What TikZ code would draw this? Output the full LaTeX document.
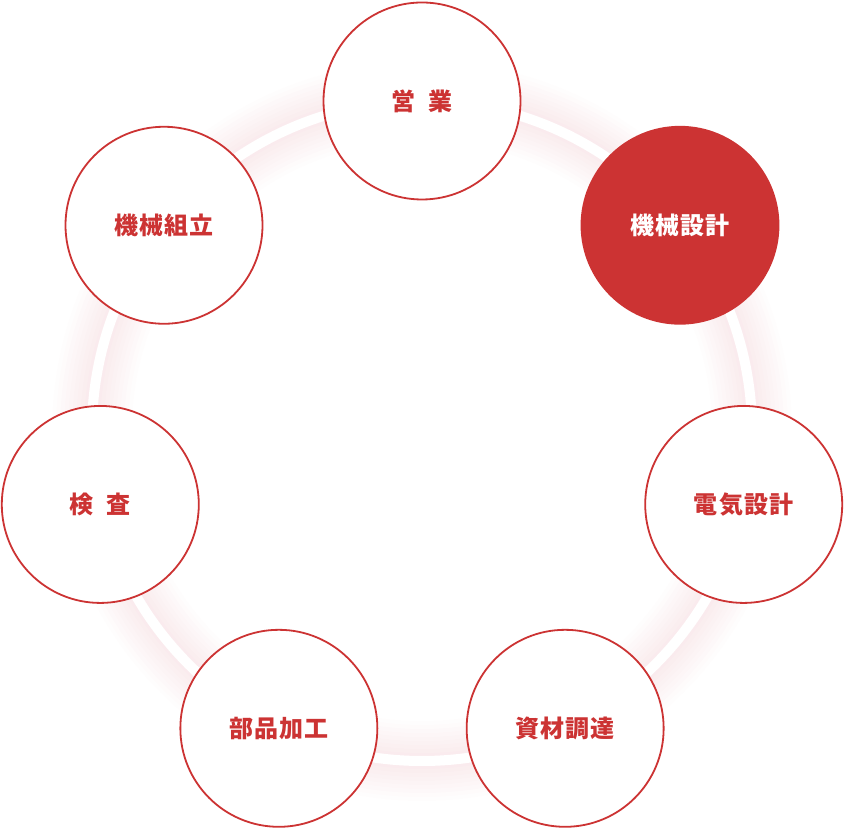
\documentclass[tikz,border=0pt]{standalone}
\usepackage{fontspec}
\usepackage{tikz}
\usetikzlibrary{positioning, calc}
\newfontfamily\cjk{Noto Sans CJK JP}[LetterSpace=5]
\definecolor{stagered}{RGB}{204,51,51}
\definecolor{glowred}{RGB}{205,70,90}

\begin{document}
\begin{tikzpicture}[x=1pt, y=1pt,
    stage/.style={circle, draw=stagered, line width=1.8pt, fill=white, minimum size=197pt,
        inner sep=0pt, font=\cjk\bfseries\fontsize{24}{28}\selectfont, text=stagered},
    current/.style={stage, fill=stagered, text=white}]
    \useasboundingbox (0,0) rectangle (845,829);

    % Ring
    \coordinate (c) at (422,398);
    \foreach \w in {80,72,...,12}
        \draw[glowred, opacity=0.013, line width=\w pt] (c) circle (330);
    \draw[white, line width=10pt] (c) circle (330);

    % Stages
    \node[stage] (eigyo) at ($(c)+(90:330)$) {営\ \ 業};
    \node[current] (kikaisekkei) at ($(c)+(38.57:330)$) {機械設計};
    \node[stage] (denkisekkei) at ($(c)+(-12.86:330)$) {電気設計};
    \node[stage] (shizai) at ($(c)+(-64.29:330)$) {資材調達};
    \node[stage] (buhin) at ($(c)+(-115.71:330)$) {部品加工};
    \node[stage] (kensa) at ($(c)+(-167.14:330)$) {検\ \ 査};
    \node[stage] (kumitate) at ($(c)+(141.43:330)$) {機械組立};

\end{tikzpicture}
\end{document}
